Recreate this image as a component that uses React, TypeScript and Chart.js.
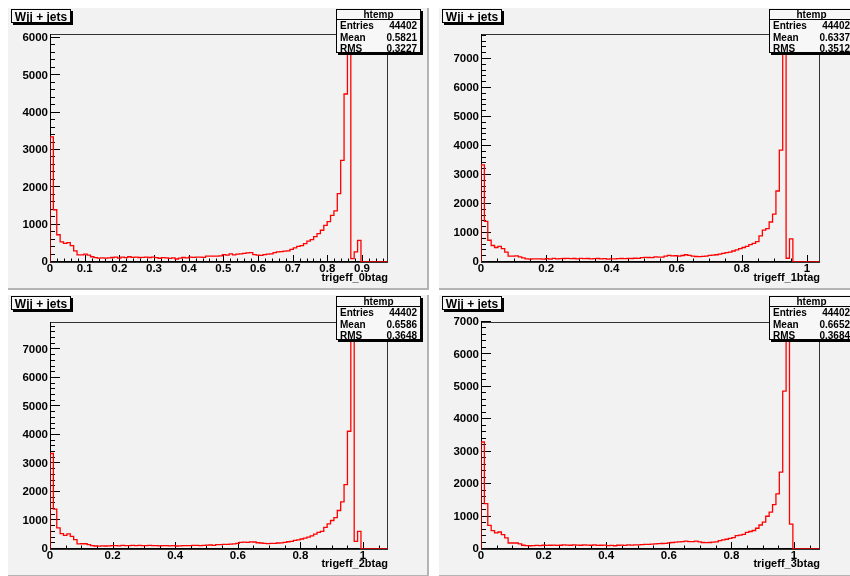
import React, { useEffect, useRef } from "react";
import { Chart, registerables } from "chart.js";

Chart.register(...registerables);

// ---------------- data ----------------
const HIST_TITLE = "Wjj + jets";
const STATS_NAME = "htemp";
const X_TITLES = ["trigeff_0btag", "trigeff_1btag", "trigeff_2btag", "trigeff_3btag"];
const ENTRIES = ["44402", "44402", "44402", "44402"];
const MEANS = ["0.5821", "0.6337", "0.6586", "0.6652"];
const RMSS = ["0.3227", "0.3512", "0.3648", "0.3684"];
const X_MAX = [0.975, 1.04, 1.08, 1.083];
const Y_MAX = [6107, 7865, 7962, 7000];
const X_TICKS_0 = [0, 0.1, 0.2, 0.3, 0.4, 0.5, 0.6, 0.7, 0.8, 0.9];
const X_TICKS_1 = [0, 0.2, 0.4, 0.6, 0.8, 1];
const X_TICKS = [X_TICKS_0, X_TICKS_1, X_TICKS_1, X_TICKS_1];
const Y_TICKS_0 = [0, 1000, 2000, 3000, 4000, 5000, 6000];
const Y_TICKS_1 = [0, 1000, 2000, 3000, 4000, 5000, 6000, 7000];
const Y_TICKS = [Y_TICKS_0, Y_TICKS_1, Y_TICKS_1, Y_TICKS_1];
const X_MINOR_DIV = [5, 4, 4, 4];
const Y_MINOR_DIV = 5;

const BINS_0BTAG = [
  3350, 1400, 730, 540, 500, 520, 440, 300, 190, 190,
  210, 185, 140, 115, 105, 110, 105, 110, 120, 130,
  105, 130, 115, 140, 125, 130, 120, 125, 130, 120,
  130, 115, 100, 115, 110, 95, 110, 80, 105, 120,
  110, 130, 125, 130, 130, 125, 160, 155, 160, 160,
  165, 195, 185, 215, 190, 210, 215, 230, 245, 250,
  195, 185, 180, 195, 210, 220, 250, 270, 280, 290,
  300, 340, 380, 420, 440, 490, 560, 600, 680, 760,
  850, 980, 1080, 1250, 1370, 1830, 2720, 4500, 5816, 90,
  270, 580, 0, 0, 0, 0, 0, 0, 0, 0,
];
const BINS_1BTAG = [
  3350, 1400, 750, 570, 500, 540, 460, 340, 200, 200,
  210, 175, 140, 110, 100, 110, 105, 110, 100, 115,
  100, 125, 110, 115, 120, 125, 115, 120, 105, 125,
  115, 120, 110, 115, 120, 105, 115, 100, 110, 105,
  115, 120, 115, 125, 120, 130, 125, 150, 160, 155,
  150, 175, 165, 170, 200, 230, 210, 215, 205, 225,
  250, 230, 200, 190, 185, 195, 200, 230, 240, 250,
  270, 300, 320, 340, 380, 420, 460, 500, 540, 600,
  640, 700, 900, 1100, 1150, 1380, 1650, 2450, 3860, 7490,
  130, 800, 0, 0, 0, 0, 0, 0, 0, 0,
];
const BINS_2BTAG = [
  3350, 1400, 740, 540, 480, 530, 445, 330, 180, 185,
  185, 150, 120, 105, 100, 110, 105, 110, 115, 120,
  110, 125, 115, 120, 125, 120, 130, 115, 120, 125,
  115, 120, 110, 115, 120, 110, 115, 105, 110, 115,
  120, 115, 125, 130, 120, 125, 135, 140, 130, 150,
  150, 160, 165, 170, 180, 200, 230, 240, 235, 250,
  245, 220, 210, 200, 190, 195, 200, 210, 215, 235,
  255, 270, 300, 320, 350, 380, 420, 460, 520, 580,
  620, 760, 880, 1000, 1100, 1350, 1650, 2260, 4130, 7583,
  270, 620, 0, 0, 0, 0, 0, 0, 0, 0,
];
const BINS_3BTAG = [
  3300, 1400, 730, 565, 495, 525, 445, 340, 185, 185,
  185, 155, 115, 105, 100, 105, 110, 105, 115, 110,
  115, 120, 110, 115, 125, 120, 115, 125, 120, 115,
  125, 120, 115, 125, 110, 115, 120, 105, 110, 100,
  115, 120, 110, 125, 120, 130, 125, 135, 140, 145,
  150, 160, 165, 170, 175, 190, 200, 210, 220, 230,
  240, 230, 225, 245, 220, 200, 195, 200, 210, 220,
  260, 280, 300, 330, 350, 410, 430, 450, 510, 540,
  570, 640, 740, 830, 1010, 1140, 1370, 1700, 2370, 4870,
  6667, 770, 0, 0, 0, 0, 0, 0, 0, 0,
];
const ALL_BINS = [BINS_0BTAG, BINS_1BTAG, BINS_2BTAG, BINS_3BTAG];

// ---------------- layout (page pixels) ----------------
type PadLayout = {
  left: number; top: number; w: number; h: number; nominalW: number; nominalH: number;
  fl: number; ft: number; fr: number; fb: number; // frame in canvas coords
};
const PADS: PadLayout[] = [
  { left: 8, top: 8, w: 421, h: 282, nominalW: 421, nominalH: 282, fl: 42, ft: 26, fr: 380, fb: 254 },
  { left: 439, top: 8, w: 411, h: 282, nominalW: 423, nominalH: 282, fl: 42, ft: 26, fr: 381, fb: 254 },
  { left: 8, top: 295, w: 421, h: 281, nominalW: 421, nominalH: 282, fl: 42, ft: 27, fr: 380, fb: 254 },
  { left: 439, top: 295, w: 411, h: 281, nominalW: 423, nominalH: 282, fl: 42, ft: 27, fr: 381, fb: 254 },
];

const FONT = "'Liberation Sans', Arial, Helvetica, sans-serif";
const PAD_BG = "#f2f2f2";

function fmtX(v: number) {
  return String(Math.round(v * 100) / 100);
}

function drawPave(ctx: CanvasRenderingContext2D, x: number, y: number, w: number, h: number, fill: string) {
  ctx.fillStyle = "#000";
  ctx.fillRect(x + 2, y + 2, w, h);
  ctx.fillStyle = fill;
  ctx.fillRect(x, y, w, h);
  ctx.strokeStyle = "#000";
  ctx.lineWidth = 1;
  ctx.strokeRect(x + 0.5, y + 0.5, w - 1, h - 1);
}

function Pad({ idx }: { idx: number }) {
  const ref = useRef<HTMLCanvasElement | null>(null);
  const L = PADS[idx];
  useEffect(() => {
    const canvas = ref.current;
    if (!canvas) return;
    const bins = ALL_BINS[idx];
    const n = bins.length;
    const xmax = X_MAX[idx];
    const ymax = Y_MAX[idx];
    const bw = xmax / n;
    const pts: { x: number; y: number }[] = [{ x: 0, y: 0 }];
    bins.forEach((v, i) => pts.push({ x: i * bw, y: v }));
    pts.push({ x: n * bw, y: bins[n - 1] });
    const xt = X_TICKS[idx];
    const yt = Y_TICKS[idx];

    const rootPlugin = {
      id: "rootstyle",
      beforeDraw(chart: any) {
        const { ctx, chartArea: a } = chart;
        ctx.save();
        ctx.fillStyle = PAD_BG;
        ctx.fillRect(0, 0, L.w, L.h);
        ctx.fillStyle = "#b4b4b4";
        ctx.fillRect(L.nominalW - 2, 0, 2, L.nominalH);
        ctx.fillRect(0, L.nominalH - 2, L.nominalW, 2);
        ctx.fillStyle = PAD_BG;
        ctx.fillRect(a.left, a.top, a.right - a.left, a.bottom - a.top);
        ctx.restore();
      },
      beforeDatasetsDraw(chart: any) {
        const { ctx, chartArea: a, scales } = chart;
        const xs = scales.x, ys = scales.y;
        ctx.save();
        ctx.strokeStyle = "#333";
        ctx.lineWidth = 1;
        ctx.strokeRect(a.left + 0.5, a.top + 0.5, a.right - a.left - 1, a.bottom - a.top);
        ctx.strokeStyle = "#000";
        ctx.beginPath();
        const yStep = yt[1] - yt[0];
        for (let k = 0; k < yt.length; k++) {
          for (let m = 0; m < Y_MINOR_DIV; m++) {
            const v = yt[k] + (m * yStep) / Y_MINOR_DIV;
            if (v > ymax) break;
            const py = Math.round(ys.getPixelForValue(v)) - 0.5;
            ctx.moveTo(a.left, py);
            ctx.lineTo(a.left + (m === 0 ? 10 : 5), py);
          }
        }
        const xStep = xt[1] - xt[0];
        const xdiv = X_MINOR_DIV[idx];
        for (let k = 0; k < xt.length; k++) {
          for (let m = 0; m < xdiv; m++) {
            const v = xt[k] + (m * xStep) / xdiv;
            if (v > xmax) break;
            const px = Math.round(xs.getPixelForValue(v)) + 0.5;
            ctx.moveTo(px, a.bottom);
            ctx.lineTo(px, a.bottom - (m === 0 ? 7 : 3.5));
          }
        }
        ctx.moveTo(a.left + 0.5, a.top);
        ctx.lineTo(a.left + 0.5, a.bottom);
        ctx.moveTo(a.left, a.bottom - 0.5);
        ctx.lineTo(a.right, a.bottom - 0.5);
        ctx.stroke();
        ctx.restore();
      },
      afterDraw(chart: any) {
        const { ctx } = chart;
        ctx.save();
        const tx = 3, ty = 1, tw = 60, th = 14;
        drawPave(ctx, tx, ty, tw, th, "#f7f7f7");
        ctx.fillStyle = "#000";
        ctx.font = `bold 12px ${FONT}`;
        ctx.textAlign = "center";
        ctx.textBaseline = "alphabetic";
        ctx.fillText(HIST_TITLE, tx + tw / 2, ty + 11.5);
        const sx = Math.round(L.nominalW * 0.78);
        const sx2 = Math.round(L.nominalW * 0.98);
        const sy = 1, sh = 44;
        const sw = sx2 - sx;
        drawPave(ctx, sx, sy, sw, sh, "#f7f7f7");
        ctx.strokeStyle = "#000";
        ctx.lineWidth = 1;
        ctx.beginPath();
        ctx.moveTo(sx, sy + 10.5);
        ctx.lineTo(sx + sw, sy + 10.5);
        ctx.stroke();
        ctx.fillStyle = "#000";
        ctx.font = `bold 10px ${FONT}`;
        ctx.textAlign = "center";
        ctx.fillText(STATS_NAME, sx + sw / 2, sy + 8.5);
        const rows: [string, string][] = [
          ["Entries", ENTRIES[idx]],
          ["Mean", MEANS[idx]],
          ["RMS", RMSS[idx]],
        ];
        rows.forEach(([k, v], r) => {
          const by = sy + 20 + r * 11.5;
          ctx.textAlign = "left";
          ctx.fillText(k, sx + 4, by);
          ctx.textAlign = "right";
          ctx.fillText(v, sx + sw - 4, by);
        });
        ctx.restore();
      },
    };

    const chart = new Chart(canvas, {
      type: "line",
      data: {
        datasets: [
          {
            data: pts,
            borderColor: "#ff0000",
            borderWidth: 1.3,
            pointRadius: 0,
            fill: false,
            stepped: "before",
            tension: 0,
          },
        ],
      },
      options: {
        animation: false,
        responsive: false,
        devicePixelRatio: 1,
        events: [],
        layout: { padding: { left: 0, top: L.ft, right: L.w - L.fr, bottom: 0 } },
        plugins: { legend: { display: false }, tooltip: { enabled: false }, title: { display: false } },
        scales: {
          x: {
            type: "linear",
            min: 0,
            max: xmax,
            grid: { display: false, drawTicks: false },
            border: { display: false },
            afterBuildTicks: (s: any) => {
              s.ticks = xt.map((v) => ({ value: v }));
            },
            ticks: {
              autoSkip: false,
              maxRotation: 0,
              padding: 0,
              color: "#000",
              font: { family: FONT, size: 11.5, weight: "bold" },
              callback: (v: any) => fmtX(Number(v)),
            },
            title: {
              display: true,
              text: X_TITLES[idx],
              align: "end",
              color: "#000",
              font: { family: FONT, size: 11, weight: "bold" },
              padding: { top: 0, bottom: 5 },
            },
            afterFit: (s: any) => {
              s.height = L.h - L.fb;
            },
          },
          y: {
            type: "linear",
            min: 0,
            max: ymax,
            grid: { display: false, drawTicks: false },
            border: { display: false },
            afterBuildTicks: (s: any) => {
              s.ticks = yt.map((v) => ({ value: v }));
            },
            ticks: {
              autoSkip: false,
              padding: 2,
              color: "#000",
              font: { family: FONT, size: 11.5, weight: "bold" },
              callback: (v: any) => String(v),
            },
            afterFit: (s: any) => {
              s.width = L.fl;
            },
          },
        },
      } as any,
      plugins: [rootPlugin],
    });
    return () => chart.destroy();
  }, [idx]);

  return (
    <canvas
      ref={ref}
      width={L.w}
      height={L.h}
      style={{ position: "absolute", left: L.left, top: L.top, width: L.w, height: L.h }}
    />
  );
}

export default function App() {
  return (
    <div style={{ position: "fixed", left: 0, top: 0, width: 850, height: 576, background: "#fff", overflow: "hidden" }}>
      {[0, 1, 2, 3].map((i) => (
        <Pad key={i} idx={i} />
      ))}
    </div>
  );
}
